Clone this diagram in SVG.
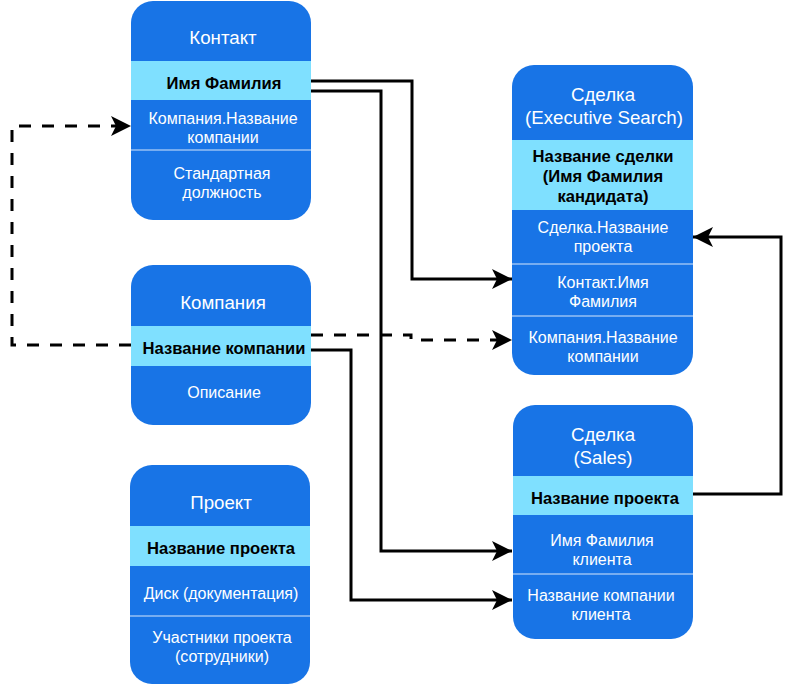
<svg xmlns="http://www.w3.org/2000/svg" width="793" height="685" viewBox="0 0 793 685">
<style>
.box{fill:#1874e6}
.hl{fill:#7fe0ff}
.sep{stroke:#d6e6fb;stroke-width:1}
.t{font-family:"Liberation Sans",Arial,sans-serif;font-size:16px;fill:#ffffff;text-anchor:middle}
.h{font-family:"Liberation Sans",Arial,sans-serif;font-size:18.7px;fill:#ffffff;text-anchor:middle}
.b{font-family:"Liberation Sans",Arial,sans-serif;font-size:16.6px;font-weight:bold;fill:#000000;text-anchor:middle}
.c{fill:none;stroke:#000;stroke-width:3;stroke-linejoin:miter}
.d{stroke-dasharray:12 11}
</style>
<defs>
<marker id="arr" markerUnits="userSpaceOnUse" markerWidth="22" markerHeight="22" refX="20" refY="10.5" orient="auto" viewBox="0 0 22 22">
<path d="M0,0.5 L20,10.5 L0,20.5 L5,10.5 Z" fill="#000"/>
</marker>
</defs>

<g id="contact">
<rect class="box" x="131" y="1" width="180" height="219" rx="22"/>
<rect class="hl" x="131" y="61" width="180" height="39"/>
<line class="sep" x1="131" y1="150" x2="311" y2="150"/>
<text class="h" x="223" y="44">Контакт</text>
<text class="b" x="224" y="89">Имя Фамилия</text>
<text class="t" x="223" y="124">Компания.Название</text>
<text class="t" x="223" y="143">компании</text>
<text class="t" x="222" y="179">Стандартная</text>
<text class="t" x="222" y="198">должность</text>
</g>

<g id="company">
<rect class="box" x="131" y="265" width="180" height="160" rx="22"/>
<rect class="hl" x="131" y="326" width="180" height="40"/>
<text class="h" x="223" y="309">Компания</text>
<text class="b" x="224" y="354">Название компании</text>
<text class="t" x="224" y="398">Описание</text>
</g>

<g id="project">
<rect class="box" x="130" y="465" width="180" height="219" rx="22"/>
<rect class="hl" x="130" y="526" width="180" height="40"/>
<line class="sep" x1="130" y1="616" x2="310" y2="616"/>
<text class="h" x="221" y="509">Проект</text>
<text class="b" x="221" y="554">Название проекта</text>
<text class="t" x="221" y="599">Диск (документация)</text>
<text class="t" x="222" y="643">Участники проекта</text>
<text class="t" x="222" y="662">(сотрудники)</text>
</g>

<g id="deal-es">
<rect class="box" x="512" y="65" width="181" height="310" rx="22"/>
<rect class="hl" x="512" y="140" width="181" height="70"/>
<line class="sep" x1="512" y1="264" x2="693" y2="264"/>
<line class="sep" x1="512" y1="316" x2="693" y2="316"/>
<text class="h" x="603" y="101">Сделка</text>
<text class="h" x="604" y="124">(Executive Search)</text>
<text class="b" x="603" y="162">Название сделки</text>
<text class="b" x="603" y="182">(Имя Фамилия</text>
<text class="b" x="603" y="202">кандидата)</text>
<text class="t" x="603" y="233">Сделка.Название</text>
<text class="t" x="603" y="252">проекта</text>
<text class="t" x="603" y="288">Контакт.Имя</text>
<text class="t" x="603" y="307">Фамилия</text>
<text class="t" x="603" y="343">Компания.Название</text>
<text class="t" x="603" y="362">компании</text>
</g>

<g id="deal-sales">
<rect class="box" x="513" y="405" width="180" height="234" rx="22"/>
<rect class="hl" x="513" y="476" width="180" height="39"/>
<line class="sep" x1="513" y1="574" x2="693" y2="574"/>
<text class="h" x="603" y="441">Сделка</text>
<text class="h" x="603" y="464">(Sales)</text>
<text class="b" x="605" y="504">Название проекта</text>
<text class="t" x="602" y="546">Имя Фамилия</text>
<text class="t" x="602" y="565">клиента</text>
<text class="t" x="601" y="601">Название компании</text>
<text class="t" x="601" y="620">клиента</text>
</g>

<g id="connectors">
<path class="c" d="M311,81 H412 V279 H512" marker-end="url(#arr)"/>
<path class="c" d="M311,91 H381 V551 H512" marker-end="url(#arr)"/>
<path class="c" d="M311,350 H351 V600 H512" marker-end="url(#arr)"/>
<path class="c d" d="M131,345 H12 V126 H131" marker-end="url(#arr)"/>
<path class="c d" d="M311,335 H411 V340 H512" marker-end="url(#arr)"/>
<path class="c" d="M693,494 H781 V237 H693" marker-end="url(#arr)"/>
</g>
</svg>
